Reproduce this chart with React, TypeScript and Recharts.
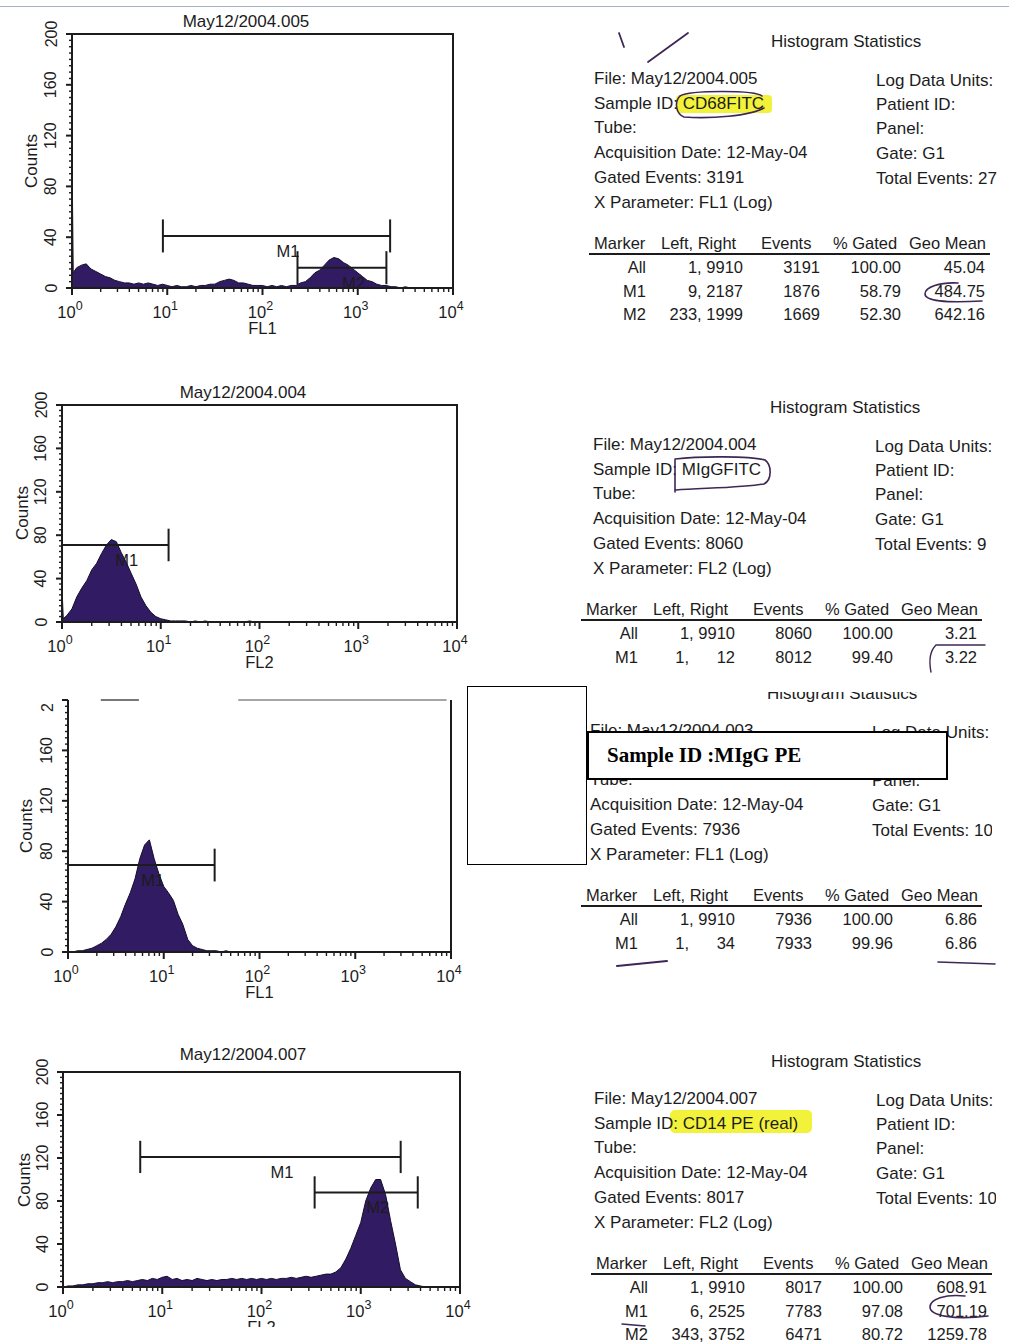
import { AreaChart, Area, XAxis, YAxis, ReferenceLine, ReferenceArea, ReferenceDot } from 'recharts'

const FONT = '"Liberation Sans", Arial, Helvetica, sans-serif'
const INK = '#1c1c1c'
const HIST_FILL = '#311b63'
const HIST_LINE = '#140d2a'
const PEN = '#3e2657'

// FL channel positions, 20 steps per decade (the 1.03 point carries the first-channel pile-up)
const channels = [
  1, 1.03,
  1.12, 1.26, 1.41, 1.58, 1.78, 2.0, 2.24, 2.51, 2.82, 3.16, 3.55, 3.98, 4.47, 5.01, 5.62, 6.31, 7.08, 7.94, 8.91, 10,
  11.2, 12.6, 14.1, 15.8, 17.8, 20, 22.4, 25.1, 28.2, 31.6, 35.5, 39.8, 44.7, 50.1, 56.2, 63.1, 70.8, 79.4, 89.1, 100,
  112, 126, 141, 158, 178, 200, 224, 251, 282, 316, 355, 398, 447, 501, 562, 631, 708, 794, 891, 1000,
  1122, 1259, 1413, 1585, 1778, 1995, 2239, 2512, 2818, 3162, 3548, 3981, 4467, 5012, 5623, 6310, 7079, 7943, 8913, 10000,
]

const xTicks = [
  1, 2, 3, 4, 5, 6, 7, 8, 9,
  10, 20, 30, 40, 50, 60, 70, 80, 90,
  100, 200, 300, 400, 500, 600, 700, 800, 900,
  1000, 2000, 3000, 4000, 5000, 6000, 7000, 8000, 9000,
  10000,
]
const yTicks = [
  0, 5, 10, 15, 20, 25, 30, 35, 40, 45, 50, 55, 60, 65, 70, 75, 80, 85, 90, 95, 100,
  105, 110, 115, 120, 125, 130, 135, 140, 145, 150, 155, 160, 165, 170, 175, 180, 185, 190, 195, 200,
]

// histogram counts per channel
const cd68Counts = [
  107, 12,
  16, 18, 19, 15, 13, 11, 9, 8, 6, 5, 4, 4, 3, 4, 3, 4, 3, 2, 3, 2,
  1, 2, 1, 1, 2, 1, 2, 2, 3, 3, 5, 6, 7, 6, 4, 4, 3, 2, 2, 2,
  1, 2, 1, 2, 1, 2, 2, 4, 5, 8, 12, 14, 18, 22, 24, 23, 20, 18, 15, 12,
  9, 6, 5, 3, 2, 2, 1, 1, 0, 1, 0, 0, 0, 0, 0, 0, 0, 0, 0, 0,
]
const miggFitcCounts = [
  32, 3,
  6, 12, 23, 31, 38, 48, 54, 63, 71, 76, 74, 64, 55, 45, 35, 23, 15, 9, 5, 3,
  2, 1, 1, 1, 1, 0, 1, 0, 1, 0, 0, 0, 0, 0, 0, 0, 0, 1, 0, 0,
  0, 0, 0, 0, 0, 0, 0, 0, 0, 0, 0, 0, 0, 0, 0, 0, 0, 0, 0, 0,
  0, 0, 0, 0, 0, 0, 0, 0, 0, 0, 0, 0, 0, 0, 0, 0, 0, 0, 0, 0,
]
const miggPeCounts = [
  0, 0,
  0, 1, 1, 2, 3, 5, 7, 10, 14, 20, 28, 38, 47, 58, 74, 85, 89, 74, 62, 52,
  47, 41, 30, 22, 10, 5, 3, 2, 1, 1, 1, 0, 1, 0, 0, 0, 0, 0, 0, 0,
  0, 0, 0, 0, 0, 0, 0, 0, 0, 0, 0, 0, 0, 0, 0, 0, 0, 0, 0, 0,
  0, 0, 0, 0, 0, 0, 0, 0, 0, 0, 0, 0, 0, 0, 0, 0, 0, 0, 0, 0,
]
const cd14Counts = [
  0, 0,
  1, 1, 2, 2, 3, 3, 4, 4, 5, 4, 5, 5, 6, 5, 6, 7, 6, 8, 7, 9,
  10, 7, 8, 6, 7, 6, 8, 7, 6, 7, 6, 7, 7, 8, 7, 8, 7, 8, 7, 8,
  7, 8, 7, 8, 8, 9, 8, 9, 10, 9, 10, 11, 12, 12, 14, 18, 26, 36, 48, 60,
  80, 92, 100, 100, 86, 62, 40, 16, 8, 5, 2, 1, 0, 0, 0, 0, 0, 0, 0, 0,
]

// markers: name, left, right, level (counts)
type Marker = [string, number, number, number]
const cd68Markers: Marker[] = [['M1', 9, 2187, 41], ['M2', 233, 1999, 16]]
const miggFitcMarkers: Marker[] = [['M1', 1, 12, 71]]
const miggPeMarkers: Marker[] = [['M1', 1, 34, 69]]
const cd14Markers: Marker[] = [['M1', 6, 2525, 121], ['M2', 343, 3752, 88]]

// statistics text
const statsFiles = ['May12/2004.005', 'May12/2004.004', 'May12/2004.003', 'May12/2004.007']
const statsSamples = ['CD68FITC', 'MIgGFITC', '', 'CD14 PE (real)']
const statsDates = ['12-May-04', '12-May-04', '12-May-04', '12-May-04']
const statsGated = ['3191', '8060', '7936', '8017']
const statsParams = ['FL1 (Log)', 'FL2 (Log)', 'FL1 (Log)', 'FL2 (Log)']
const statsTotals = ['27', '9', '10', '10']
const tableHeads = ['Marker', 'Left, Right', 'Events', '% Gated', 'Geo Mean']
const cd68Table = [
  ['All', '1, 9910', '3191', '100.00', '45.04'],
  ['M1', '9, 2187', '1876', '58.79', '484.75'],
  ['M2', '233, 1999', '1669', '52.30', '642.16'],
]
const miggFitcTable = [
  ['All', '1, 9910', '8060', '100.00', '3.21'],
  ['M1', '1,  \u2007\u200712', '8012', '99.40', '3.22'],
]
const miggPeTable = [
  ['All', '1, 9910', '7936', '100.00', '6.86'],
  ['M1', '1,  \u2007\u200734', '7933', '99.96', '6.86'],
]
const cd14Table = [
  ['All', '1, 9910', '8017', '100.00', '608.91'],
  ['M1', '6, 2525', '7783', '97.08', '701.19'],
  ['M2', '343, 3752', '6471', '80.72', '1259.78'],
]
const statsTables = [cd68Table, miggFitcTable, miggPeTable, cd14Table]

function LogTick(props: any) {
  const { x, y, payload } = props
  const v = payload.value
  const p = Math.round(Math.log10(v))
  const major = Math.abs(Math.pow(10, p) - v) < 1e-6
  return (
    <g>
      <line x1={x} x2={x} y1={y} y2={y + (major ? 7 : 4)} stroke={INK} strokeWidth={major ? 2 : 1.4} />
      {major && (
        <text x={x - 2} y={y + 30} textAnchor="middle" fontSize={16.5} fill={INK} fontFamily={FONT}>
          10
          <tspan dy={-8} fontSize={12.5}>
            {p}
          </tspan>
        </text>
      )}
    </g>
  )
}

function CountTick(props: any) {
  const { x, y, payload, topLabel } = props
  const v = payload.value
  const major = v % 40 === 0
  const lx = x - 21
  const isTop = v === 200 && topLabel
  const ty = isTop ? y + 12 : y
  return (
    <g>
      <line x1={x} x2={x - (major ? 6 : 3)} y1={y} y2={y} stroke={INK} strokeWidth={major ? 2 : 1.4} />
      {major && (
        <text
          x={lx}
          y={ty}
          transform={`rotate(-90 ${lx} ${ty})`}
          textAnchor={isTop ? 'start' : 'middle'}
          dominantBaseline="central"
          fontSize={16}
          fill={INK}
          fontFamily={FONT}
        >
          {isTop ? topLabel : v}
        </text>
      )}
    </g>
  )
}

interface Box {
  left: number
  right: number
  top: number
  bottom: number
}

interface HistogramProps {
  counts: number[]
  markers: Marker[]
  box: Box
  xName: string
  capHalf: number
  topLabel?: string
  openFrame?: boolean
}

function Histogram({ counts, markers, box, xName, capHalf, topLabel, openFrame }: HistogramProps) {
  const data = channels.map((ch, i) => ({ ch, count: counts[i] }))
  const width = box.right + 20
  const height = 20 + (box.bottom - box.top) + 52

  const markerParts = markers.flatMap(([name, lo, hi, level]) => [
    <ReferenceLine
      key={name + 'bar'}
      segment={[{ x: lo, y: level }, { x: hi, y: level }]}
      stroke={INK}
      strokeWidth={2}
    />,
    <ReferenceLine
      key={name + 'l'}
      segment={[{ x: lo, y: level - capHalf }, { x: lo, y: level + capHalf }]}
      stroke={INK}
      strokeWidth={2}
    />,
    <ReferenceLine
      key={name + 'r'}
      segment={[{ x: hi, y: level - capHalf }, { x: hi, y: level + capHalf }]}
      stroke={INK}
      strokeWidth={2}
    />,
    <ReferenceDot
      key={name + 'lbl'}
      x={Math.sqrt(lo * hi)}
      y={level}
      r={0}
      shape={(p: any) => (
        <text x={p.cx} y={p.cy + 15} dominantBaseline="central" fontSize={16.5} fill={INK} fontFamily={FONT}>
          {name}
        </text>
      )}
    />,
  ])

  return (
    <div style={{ position: 'absolute', left: 0, top: box.top - 20 }}>
      <AreaChart width={width} height={height} data={data} margin={{ top: 20, right: 20, bottom: 0, left: 0 }}>
        <XAxis
          type="number"
          dataKey="ch"
          scale="log"
          domain={[1, 10000]}
          ticks={xTicks}
          interval={0}
          allowDataOverflow
          axisLine={false}
          tickLine={false}
          tickSize={0}
          tickMargin={0}
          height={52}
          tick={<LogTick />}
          label={{ value: xName, position: 'insideBottom', offset: 6, fill: INK, fontSize: 16.5, fontFamily: FONT }}
        />
        <YAxis
          type="number"
          domain={[0, 200]}
          ticks={yTicks}
          interval={0}
          allowDataOverflow
          axisLine={false}
          tickLine={false}
          tickSize={0}
          tickMargin={0}
          width={box.left}
          tick={<CountTick topLabel={topLabel} />}
        />
        <Area
          type="linear"
          dataKey="count"
          stroke={HIST_LINE}
          strokeWidth={1}
          fill={HIST_FILL}
          fillOpacity={1}
          dot={false}
          activeDot={false}
          isAnimationActive={false}
        />
        {openFrame ? (
          [
            <ReferenceLine key="fl" x={1} stroke={INK} strokeWidth={2} />,
            <ReferenceLine key="fb" y={0} stroke={INK} strokeWidth={2} />,
            <ReferenceLine key="fr" x={10000} stroke={INK} strokeWidth={2} />,
            <ReferenceLine key="ft1" segment={[{ x: 2.2, y: 200 }, { x: 5.5, y: 200 }]} stroke="#777" strokeWidth={2} />,
            <ReferenceLine key="ft2" segment={[{ x: 60, y: 200 }, { x: 9000, y: 200 }]} stroke="#888" strokeWidth={1.5} />,
          ]
        ) : (
          <ReferenceArea x1={1} x2={10000} y1={0} y2={200} fill="none" stroke={INK} strokeWidth={2} />
        )}
        {markerParts}
      </AreaChart>
    </div>
  )
}

function PlotTitle({ text, cx, cy }: { text: string; cx: number; cy: number }) {
  return (
    <div
      style={{
        position: 'absolute',
        left: cx - 100,
        top: cy - 10,
        width: 200,
        textAlign: 'center',
        fontSize: 17,
        lineHeight: '20px',
        color: INK,
      }}
    >
      {text}
    </div>
  )
}

function CountsLabel({ cx, cy }: { cx: number; cy: number }) {
  return (
    <div
      style={{
        position: 'absolute',
        left: cx - 40,
        top: cy - 10,
        width: 80,
        textAlign: 'center',
        fontSize: 17,
        lineHeight: '20px',
        color: INK,
        transform: 'rotate(-90deg)',
      }}
    >
      Counts
    </div>
  )
}

const headLeft = [0, 67, 167, 239, 315]
const rowRight = [52, 149, 226, 307, 391]

interface StatsBlockProps {
  i: number
  x0: number
  y0: number
  tableLeft: number
  clip: string
  covered?: number[]
}

function StatsBlock({ i, x0, y0, tableLeft, clip, covered = [] }: StatsBlockProps) {
  const leftLines = [
    `File: ${statsFiles[i]}`,
    `Sample ID: ${statsSamples[i]}`,
    'Tube:',
    `Acquisition Date: ${statsDates[i]}`,
    `Gated Events: ${statsGated[i]}`,
    `X Parameter: ${statsParams[i]}`,
  ]
  const rightLines = ['Log Data Units:', 'Patient ID:', 'Panel:', 'Gate: G1', `Total Events: ${statsTotals[i]}`]
  const leftDy = [0, 25, 49, 74, 99, 124]
  const rightDy = [2, 26, 50, 75, 100]
  const t = (key: string, x: number, y: number, s: string, size: number, right = false) => (
    <div
      key={key}
      style={{
        position: 'absolute',
        left: x,
        top: y - 10,
        lineHeight: '20px',
        fontSize: size,
        whiteSpace: 'pre',
        transform: right ? 'translateX(-100%)' : undefined,
      }}
    >
      {s}
    </div>
  )
  return (
    <div
      style={{
        position: 'absolute',
        left: 0,
        top: 0,
        width: 1009,
        height: 1342,
        clipPath: clip,
        color: INK,
        fontFamily: FONT,
      }}
    >
      {t('title', x0 + 177, y0 - 37, 'Histogram Statistics', 17)}
      {leftLines.map((s, k) => (covered.includes(k) ? null : t('l' + k, x0, y0 + leftDy[k], s, 17)))}
      {rightLines.map((s, k) => (covered.includes(k) ? null : t('r' + k, x0 + 282, y0 + rightDy[k], s, 17)))}
      {tableHeads.map((s, k) => t('h' + k, tableLeft + headLeft[k], y0 + 164, s, 16.5))}
      <div
        style={{
          position: 'absolute',
          left: tableLeft - 5,
          top: y0 + 174,
          width: 401,
          height: 2,
          background: INK,
        }}
      />
      {statsTables[i].map((row, r) =>
        row.map((s, k) => t(`c${r}-${k}`, tableLeft + rowRight[k], y0 + 188 + r * 23.7, s, 16.5, true)),
      )}
    </div>
  )
}

export default function App() {
  return (
    <div
      style={{
        position: 'absolute',
        left: 0,
        top: 0,
        width: 1009,
        height: 1342,
        overflow: 'hidden',
        background: '#fff',
        fontFamily: FONT,
      }}
    >
      {/* scan edge */}
      <div style={{ position: 'absolute', left: 0, top: 6, width: 1009, height: 1, background: '#a7b0c4' }} />

      {/* highlighter */}
      <svg width={1009} height={1342} style={{ position: 'absolute', left: 0, top: 0 }}>
        <rect x={676} y={95} width={96} height={18} rx={4} fill="#f3f23a" />
        <rect x={670} y={1110} width={142} height={23} rx={5} fill="#f3f23a" />
      </svg>

      <Histogram counts={cd68Counts} markers={cd68Markers} box={{ left: 72, right: 453, top: 34, bottom: 288 }} xName="FL1" capHalf={13} />
      <Histogram counts={miggFitcCounts} markers={miggFitcMarkers} box={{ left: 62, right: 457, top: 405, bottom: 622 }} xName="FL2" capHalf={15} />
      <Histogram counts={miggPeCounts} markers={miggPeMarkers} box={{ left: 68, right: 451, top: 700, bottom: 952 }} xName="FL1" capHalf={13} topLabel="2" openFrame />
      <Histogram counts={cd14Counts} markers={cd14Markers} box={{ left: 63, right: 460, top: 1072, bottom: 1287 }} xName="FL2" capHalf={15} />

      <PlotTitle text="May12/2004.005" cx={246} cy={22} />
      <PlotTitle text="May12/2004.004" cx={243} cy={393} />
      <PlotTitle text="May12/2004.007" cx={243} cy={1055} />

      <CountsLabel cx={32} cy={161} />
      <CountsLabel cx={23} cy={513} />
      <CountsLabel cx={27} cy={826} />
      <CountsLabel cx={25} cy={1180} />

      <StatsBlock i={0} x0={594} y0={79} tableLeft={594} clip="inset(0px 12px 0px 0px)" />
      <StatsBlock i={1} x0={593} y0={445} tableLeft={586} clip="inset(0px 17px 0px 0px)" />
      <StatsBlock i={2} x0={590} y0={731} tableLeft={586} clip="inset(692px 17px 0px 0px)" covered={[1]} />
      <StatsBlock i={3} x0={594} y0={1099} tableLeft={596} clip="inset(0px 13px 0px 0px)" />

      {/* pen marks */}
      <svg width={1009} height={1342} style={{ position: 'absolute', left: 0, top: 0 }} fill="none" stroke={PEN} strokeLinecap="round">
        <path d="M619 33 L624 47" strokeWidth={1.8} />
        <path d="M688 33 L648 62" strokeWidth={1.8} />
        <path d="M762 96 C755 90 690 90 680 96 C674 102 676 114 684 117 C710 119 750 116 764 108" strokeWidth={1.6} />
        <path d="M958 283 C940 282 925 287 925 294 C925 301 945 303 982 301" strokeWidth={1.6} />
        <path d="M675 460 L675 492 M675 459 C700 456 750 456 765 460 C772 465 772 480 764 484 C740 488 700 488 676 490" strokeWidth={1.6} />
        <path d="M985 645 L936 645 C929 652 929 662 931 672" strokeWidth={1.4} />
        <path d="M617 966 L667 961" strokeWidth={2} />
        <path d="M938 962 L995 964" strokeWidth={1.6} />
        <path d="M965 1296 C945 1294 930 1299 930 1307 C930 1316 955 1320 988 1316" strokeWidth={1.6} />
        <path d="M622 1324 L645 1326" strokeWidth={1.4} />
      </svg>

      {/* torn scan bottom-left */}
      <div style={{ position: 'absolute', left: 0, top: 1327, width: 480, height: 15, background: '#fff' }} />

      {/* pasted boxes */}
      <div
        style={{
          position: 'absolute',
          left: 467,
          top: 686,
          width: 120,
          height: 179,
          boxSizing: 'border-box',
          background: '#fff',
          border: '1px solid #000',
        }}
      />
      <div
        style={{
          position: 'absolute',
          left: 587,
          top: 731,
          width: 361,
          height: 49,
          boxSizing: 'border-box',
          background: '#fff',
          border: '2px solid #000',
          fontFamily: '"Liberation Serif", "Times New Roman", serif',
          fontWeight: 'bold',
          fontSize: 21,
          lineHeight: '45px',
          paddingLeft: 18,
          color: '#000',
        }}
      >
        Sample ID :MIgG PE
      </div>
    </div>
  )
}
